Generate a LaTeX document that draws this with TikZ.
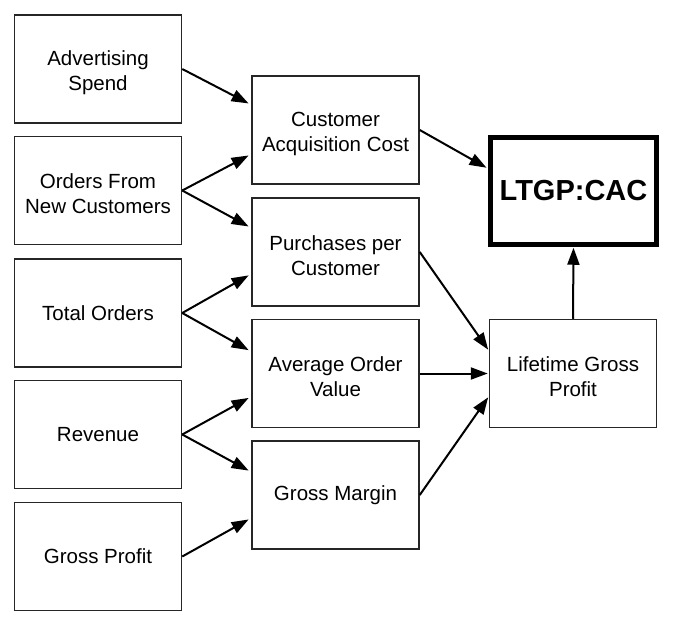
\documentclass[tikz,border=0pt]{standalone}
\usepackage{fontspec}
\setmainfont{Liberation Sans}
\usetikzlibrary{arrows.meta,calc}
\newcommand\lowr{\rule{0pt}{22pt}}
\tikzset{
  box/.style={draw=black!85, line width=1.5pt, minimum width=167pt, minimum height=108pt, inner sep=0pt, align=center, font=\fontsize{20.5}{25}\selectfont},
  goal/.style={draw=black, line width=4.5pt, minimum width=166pt, minimum height=107pt, inner sep=0pt, align=center, font=\fontsize{29}{30}\selectfont\bfseries},
  link/.style={line width=2pt, -{Triangle[length=17pt,width=12pt]}, shorten >=3pt}
}
\begin{document}
\begin{tikzpicture}[x=1pt,y=-1pt]
\useasboundingbox (0,0) rectangle (687,634);
% left column
\node[box] (ad) at (98,69) {\lowr Advertising\\Spend};
\node[box] (on) at (98,190.5) {\lowr Orders From\\New Customers};
\node[box] (to) at (98,313) {Total Orders};
\node[box] (rv) at (98,434.5) {Revenue};
\node[box] (gp) at (98,556.5) {Gross Profit};
% middle column
\node[box] (cac) at (335.5,130) {\lowr Customer\\Acquisition Cost};
\node[box] (ppc) at (335.5,252) {\lowr Purchases per\\Customer};
\node[box] (aov) at (335.5,373.5) {\lowr Average Order\\Value};
\node[box] (gm) at (335.5,495) {Gross Margin};
% right column
\node[goal] (ratio) at (573.5,191) {LTGP:CAC};
\node[box] (ltgp) at (573,373.5) {\lowr Lifetime Gross\\Profit};
% connectors
\draw[link] (ad.east) -- ($(cac.north west)!0.27!(cac.south west)$);
\draw[link] (on.east) -- ($(cac.north west)!0.72!(cac.south west)$);
\draw[link] (on.east) -- ($(ppc.north west)!0.28!(ppc.south west)$);
\draw[link] (to.east) -- ($(ppc.north west)!0.70!(ppc.south west)$);
\draw[link] (to.east) -- ($(aov.north west)!0.30!(aov.south west)$);
\draw[link] (rv.east) -- ($(aov.north west)!0.71!(aov.south west)$);
\draw[link] (rv.east) -- ($(gm.north west)!0.29!(gm.south west)$);
\draw[link] (gp.east) -- ($(gm.north west)!0.71!(gm.south west)$);
\draw[link, shorten >=2pt] (cac.east) -- ($(ratio.north west)!0.30!(ratio.south west)$);
\draw[link, shorten >=1pt] (ppc.east) -- ($(ltgp.north west)!0.29!(ltgp.south west)$);
\draw[link, shorten >=1pt] (aov.east) -- (ltgp.west);
\draw[link, shorten >=1pt] (gm.east) -- ($(ltgp.north west)!0.71!(ltgp.south west)$);
\draw[link, shorten >=1pt] (ltgp.north) -- (ratio.south);
\end{tikzpicture}
\end{document}
